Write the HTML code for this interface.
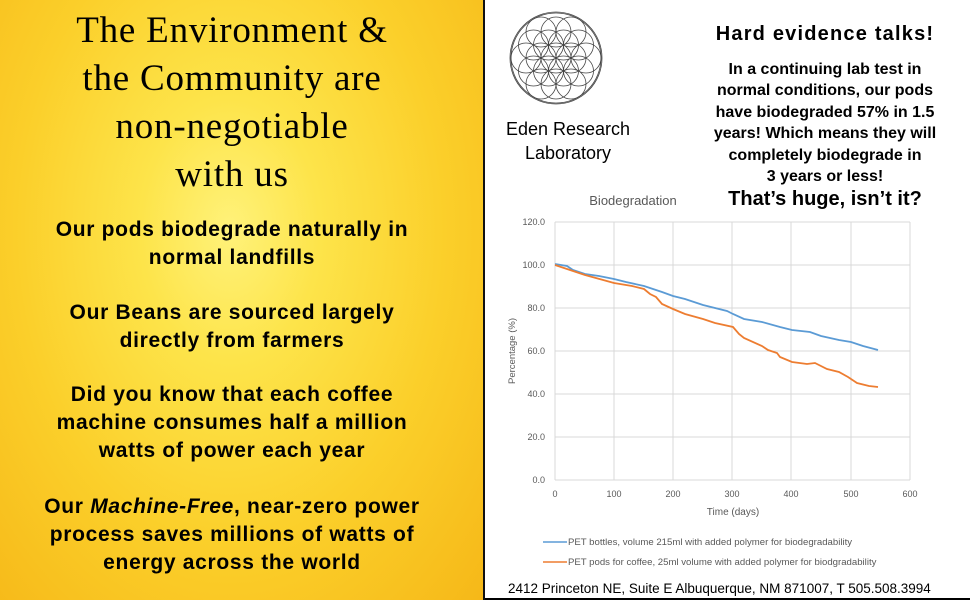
<!DOCTYPE html>
<html><head><meta charset="utf-8"><style>
body{margin:0;width:970px;height:600px;overflow:hidden;position:relative;background:#fff;font-family:"Liberation Sans",sans-serif}
#left{position:absolute;left:0;top:0;width:483px;height:600px;background:radial-gradient(ellipse at 230px 230px,#fff27a 0%,#fde44a 25%,#fbcf2a 60%,#f6b818 100%);border-right:2px solid #111}
.t{position:absolute;left:0;width:464px;text-align:center;color:#000;white-space:nowrap}
.title{font-family:"Liberation Serif",serif;font-size:37px;line-height:48px;top:7px;letter-spacing:0.8px}
.b{font-weight:bold;font-size:21px;line-height:28px;letter-spacing:0.7px}
.r{position:absolute;text-align:center;color:#000;font-weight:bold;white-space:nowrap}
</style></head><body>
<div id="left">
<div class="t title">The Environment &amp;<br>the Community are<br>non-negotiable<br>with us</div>
<div class="t b" style="top:216px">Our pods biodegrade naturally in<br>normal landfills</div>
<div class="t b" style="top:299px">Our Beans are sourced largely<br>directly from farmers</div>
<div class="t b" style="top:381px">Did you know that each coffee<br>machine consumes half a million<br>watts of power each year</div>
<div class="t b" style="top:493px">Our <i>Machine-Free</i>, near-zero power<br>process saves millions of watts of<br>energy across the world</div>
</div>
<svg style="position:absolute;left:508px;top:10px" width="96" height="96" viewBox="-48 -48 96 96" fill="none" stroke="#444" stroke-width="0.8">
<circle r="46"/><circle r="45"/>
<circle r="15"/>
<circle cx="15" r="15"/><circle cx="-15" r="15"/>
<circle cx="7.5" cy="13" r="15"/><circle cx="-7.5" cy="13" r="15"/>
<circle cx="7.5" cy="-13" r="15"/><circle cx="-7.5" cy="-13" r="15"/>
<circle cx="30" r="15"/><circle cx="-30" r="15"/>
<circle cx="15" cy="26" r="15"/><circle cx="-15" cy="26" r="15"/>
<circle cx="15" cy="-26" r="15"/><circle cx="-15" cy="-26" r="15"/>
<circle cx="22.5" cy="13" r="15"/><circle cx="-22.5" cy="13" r="15"/>
<circle cx="22.5" cy="-13" r="15"/><circle cx="-22.5" cy="-13" r="15"/>
<circle cy="26" r="15"/><circle cy="-26" r="15"/>
</svg>
<div class="r" style="left:488px;width:160px;top:117px;font-weight:normal;font-size:18px;line-height:24px">Eden Research<br>Laboratory</div>
<div class="r" style="left:680px;width:290px;top:23px;font-size:20px;letter-spacing:1.2px">Hard evidence talks!</div>
<div class="r" style="left:680px;width:290px;top:59px;font-size:16px;line-height:21.4px">In a continuing lab test in<br>normal conditions, our pods<br>have biodegraded 57% in 1.5<br>years! Which means they will<br>completely biodegrade in<br>3 years or less!</div>
<div class="r" style="left:680px;width:290px;top:188px;font-size:20px">That’s huge, isn’t it?</div>
<svg style="position:absolute;left:485px;top:180px" width="485" height="420" font-family="Liberation Sans,sans-serif">
<text x="148" y="25" font-size="13" fill="#595959" text-anchor="middle">Biodegradation</text>
<g stroke="#d9d9d9" stroke-width="1">
<line x1="70" y1="42" x2="425" y2="42"/><line x1="70" y1="85" x2="425" y2="85"/><line x1="70" y1="128" x2="425" y2="128"/><line x1="70" y1="171" x2="425" y2="171"/><line x1="70" y1="214" x2="425" y2="214"/><line x1="70" y1="257" x2="425" y2="257"/><line x1="70" y1="300" x2="425" y2="300"/>
<line x1="70" y1="42" x2="70" y2="300"/><line x1="129" y1="42" x2="129" y2="300"/><line x1="188" y1="42" x2="188" y2="300"/><line x1="247" y1="42" x2="247" y2="300"/><line x1="306" y1="42" x2="306" y2="300"/><line x1="366" y1="42" x2="366" y2="300"/><line x1="425" y1="42" x2="425" y2="300"/>
</g>
<g font-size="9" fill="#595959" text-anchor="end">
<text x="60" y="45">120.0</text><text x="60" y="88">100.0</text><text x="60" y="131">80.0</text><text x="60" y="174">60.0</text><text x="60" y="217">40.0</text><text x="60" y="260">20.0</text><text x="60" y="303">0.0</text></g>
<g font-size="9" fill="#595959" text-anchor="middle">
<text x="70" y="317">0</text><text x="129" y="317">100</text><text x="188" y="317">200</text><text x="247" y="317">300</text><text x="306" y="317">400</text><text x="366" y="317">500</text><text x="425" y="317">600</text>
<text x="248" y="335" font-size="10">Time (days)</text></g>
<text transform="translate(30,171) rotate(-90)" font-size="9.5" fill="#595959" text-anchor="middle">Percentage (%)</text>
<polyline fill="none" stroke="#5b9bd5" stroke-width="1.8" points="70,84 82,86 88,90 100,94 114,96 129,99 141,102 159,106 177,112 188,116 200,119 218,125 242,131 248,134 259,139 277,142 295,147 307,150 325,152 336,156 354,160 366,162 378,166 393,170"/>
<polyline fill="none" stroke="#ed7d31" stroke-width="1.8" points="70,85 82,89 88,91 100,95 129,103 147,106 159,109 165,114 171,117 177,124 188,129 200,134 218,139 230,143 248,147 254,154 259,158 277,166 283,170 292,173 295,177 307,182 322,184 330,183 342,189 354,192 363,197 369,201 372,203 384,206 393,207"/>
<line x1="58" y1="362" x2="82" y2="362" stroke="#5b9bd5" stroke-width="1.5"/>
<text x="83" y="365" font-size="9.6" fill="#595959">PET bottles, volume 215ml with added polymer for biodegradability</text>
<line x1="58" y1="382" x2="82" y2="382" stroke="#ed7d31" stroke-width="1.5"/>
<text x="83" y="385" font-size="9.6" fill="#595959">PET pods for coffee, 25ml volume with added polymer for biodgradability</text>
<text x="23" y="413" font-size="13.5" fill="#000">2412 Princeton NE, Suite E Albuquerque, NM 871007,  T 505.508.3994</text>
</svg>
<div style="position:absolute;left:485px;top:598px;width:485px;height:2px;background:#000"></div>
</body></html>
